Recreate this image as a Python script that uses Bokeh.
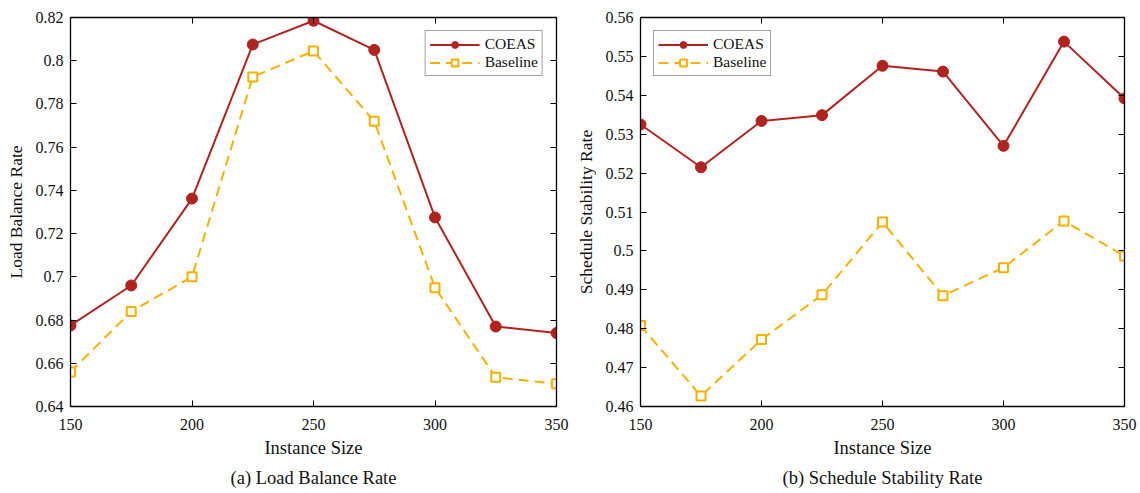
from bokeh.plotting import figure
from bokeh.layouts import row
from bokeh.models import LinearAxis, FixedTicker, Legend, LegendItem, Title, Range1d
from bokeh.embed import file_html
from bokeh.resources import INLINE

# ---- data ----
instance_sizes = [150, 175, 200, 225, 250, 275, 300, 325, 350]

lb_coeas = [0.6775, 0.696, 0.7362, 0.8075, 0.8185, 0.805, 0.7275, 0.677, 0.674]
lb_baseline = [0.656, 0.684, 0.700, 0.7925, 0.8045, 0.772, 0.695, 0.6535, 0.6505]

ss_coeas = [0.5325, 0.5215, 0.5334, 0.5349, 0.5476, 0.5461, 0.527, 0.5538, 0.5392]
ss_baseline = [0.4808, 0.4627, 0.4772, 0.4887, 0.5074, 0.4885, 0.4957, 0.5077, 0.4987]

x_ticks = [150, 200, 250, 300, 350]
lb_ticks = [0.64, 0.66, 0.68, 0.70, 0.72, 0.74, 0.76, 0.78, 0.80, 0.82]
lb_tick_labels = ["0.64", "0.66", "0.68", "0.7", "0.72", "0.74", "0.76", "0.78", "0.8", "0.82"]
ss_ticks = [0.46, 0.47, 0.48, 0.49, 0.50, 0.51, 0.52, 0.53, 0.54, 0.55, 0.56]
ss_tick_labels = ["0.46", "0.47", "0.48", "0.49", "0.5", "0.51", "0.52", "0.53", "0.54", "0.55", "0.56"]

series_names = ["COEAS", "Baseline"]

RED = "#B02420"
ORANGE = "#F7B000"
FONT = "Liberation Serif"


def style_axis(ax, ticks, labels=None, show_labels=True):
    ax.ticker = FixedTicker(ticks=ticks)
    if labels is not None:
        ax.major_label_overrides = {t: l for t, l in zip(ticks, labels)}
    ax.major_tick_in = 6
    ax.major_tick_out = 0
    ax.minor_tick_line_color = None
    ax.axis_line_color = "black"
    ax.axis_line_width = 1.3
    ax.major_tick_line_color = "black"
    ax.major_tick_line_width = 1
    ax.major_label_text_font = FONT
    ax.major_label_text_font_size = "16px"
    ax.major_label_text_color = "#111111" if show_labels else None
    ax.axis_label_text_font = FONT
    ax.axis_label_text_font_size = "18.5px"
    ax.axis_label_text_font_style = "normal"
    ax.axis_label_text_color = "#111111"


def make_panel(y1, y2, yrange, yticks, ylabels, ylabel, caption, legend_loc, width, left, right):
    p = figure(width=width, height=493, output_backend="svg", toolbar_location=None,
               x_range=Range1d(150, 350), y_range=Range1d(*yrange),
               min_border_left=left, min_border_right=right, min_border_top=17,
               min_border_bottom=87)
    p.xgrid.visible = False
    p.ygrid.visible = False
    p.outline_line_color = None
    p.background_fill_color = "white"
    p.border_fill_color = "white"

    style_axis(p.xaxis[0], x_ticks)
    p.xaxis[0].axis_label = "Instance Size"
    p.xaxis[0].major_label_standoff = 12
    p.xaxis[0].axis_label_standoff = 5
    style_axis(p.yaxis[0], yticks, ylabels)
    p.yaxis[0].axis_label = ylabel
    p.yaxis[0].axis_label_text_font_size = "17.5px"
    p.yaxis[0].major_label_standoff = 7
    p.yaxis[0].axis_label_standoff = 7

    top = LinearAxis()
    style_axis(top, x_ticks, show_labels=False)
    top.major_label_text_font_size = "0px"
    p.add_layout(top, "above")
    rgt = LinearAxis()
    style_axis(rgt, yticks, show_labels=False)
    rgt.major_label_text_font_size = "0px"
    p.add_layout(rgt, "right")

    l1 = p.line(instance_sizes, y1, line_color=RED, line_width=2)
    m1 = p.scatter(instance_sizes, y1, marker="circle", size=11, fill_color=RED, line_color=RED)
    l2 = p.line(instance_sizes, y2, line_color=ORANGE, line_width=2, line_dash="10 6")
    m2 = p.scatter(instance_sizes, y2, marker="square", size=9, fill_color="white",
                   line_color=ORANGE, line_width=2)

    legend = Legend(items=[LegendItem(label=series_names[0], renderers=[l1, m1]),
                           LegendItem(label=series_names[1], renderers=[l2, m2])],
                    location=legend_loc)
    legend.label_text_font = FONT
    legend.label_text_font_size = "15.5px"
    legend.label_text_color = "#111111"
    legend.glyph_width = 50
    legend.glyph_height = 17
    legend.label_standoff = 5
    legend.spacing = 0
    legend.padding = 4
    legend.margin = 13
    legend.border_line_color = "#444444"
    legend.border_line_width = 1.2
    legend.background_fill_alpha = 1
    p.add_layout(legend, "center")

    cap = Title(text=caption, align="center", text_font=FONT, text_font_size="18.5px",
                text_font_style="normal", text_color="#111111", standoff=10)
    p.add_layout(cap, "below")
    return p


p1 = make_panel(lb_coeas, lb_baseline, (0.64, 0.82), lb_ticks, lb_tick_labels,
                "Load Balance Rate", "(a) Load Balance Rate", "top_right", 570, 70, 14)
p2 = make_panel(ss_coeas, ss_baseline, (0.46, 0.56), ss_ticks, ss_tick_labels,
                "Schedule Stability Rate", "(b) Schedule Stability Rate", "top_left", 570, 70, 16)

layout = row(p1, p2)
open("out.html", "w").write(file_html(layout, INLINE))
